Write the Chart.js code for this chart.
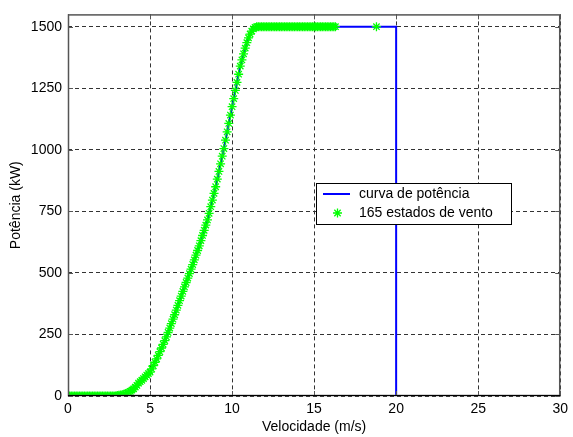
<!DOCTYPE html>
<html>
<head>
<meta charset="utf-8">
<script src="https://cdn.jsdelivr.net/npm/chart.js@4/dist/chart.umd.min.js"></script>
<style>
    html, body { margin: 0; padding: 0; background: #fff; }
    #wrap { width: 573px; height: 437px; position: relative; }
</style>
</head>
<body>
<div id="wrap"><canvas id="powerChart" width="573" height="437"></canvas></div>
<script>
// Power curve (blue line): wind speed (m/s) and power (kW)
const curveSpeed = [0, 0.5, 1, 1.5, 2, 2.5, 3, 3.5, 4, 4.5, 5, 5.5, 6, 6.5, 7, 7.5, 8, 8.5, 9, 9.5, 10, 10.5, 11, 11.25, 11.5, 20, 20, 30];
const curvePower = [0, 0, 0, 0, 0, 0, 2, 9, 29, 64, 97, 165, 240, 330, 425, 515, 610, 715, 850, 1005, 1175, 1340, 1455, 1487, 1500, 1500, 0, 0];

// 165 wind states (green stars)
const stateSpeed = [
    0.0, 0.1, 0.2, 0.3, 0.4, 0.5, 0.6, 0.7, 0.8, 0.9,
    1.0, 1.1, 1.2, 1.3, 1.4, 1.5, 1.6, 1.7, 1.8, 1.9,
    2.0, 2.1, 2.2, 2.3, 2.4, 2.5, 2.6, 2.7, 2.8, 2.9,
    3.0, 3.1, 3.2, 3.3, 3.4, 3.5, 3.6, 3.7, 3.8, 3.9,
    4.0, 4.1, 4.2, 4.3, 4.4, 4.5, 4.6, 4.7, 4.8, 4.9,
    5.0, 5.1, 5.2, 5.3, 5.4, 5.5, 5.6, 5.7, 5.8, 5.9,
    6.0, 6.1, 6.2, 6.3, 6.4, 6.5, 6.6, 6.7, 6.8, 6.9,
    7.0, 7.1, 7.2, 7.3, 7.4, 7.5, 7.6, 7.7, 7.8, 7.9,
    8.0, 8.1, 8.2, 8.3, 8.4, 8.5, 8.6, 8.7, 8.8, 8.9,
    9.0, 9.1, 9.2, 9.3, 9.4, 9.5, 9.6, 9.7, 9.8, 9.9,
    10.0, 10.1, 10.2, 10.3, 10.4, 10.5, 10.6, 10.7, 10.8, 10.9,
    11.0, 11.1, 11.2, 11.3, 11.4, 11.5, 11.6, 11.7, 11.8, 11.9,
    12.0, 12.1, 12.2, 12.3, 12.4, 12.5, 12.6, 12.7, 12.8, 12.9,
    13.0, 13.1, 13.2, 13.3, 13.4, 13.5, 13.6, 13.7, 13.8, 13.9,
    14.0, 14.1, 14.2, 14.3, 14.4, 14.5, 14.6, 14.7, 14.8, 14.9,
    15.0, 15.1, 15.2, 15.3, 15.4, 15.5, 15.6, 15.7, 15.8, 15.9,
    16.0, 16.1, 16.2, 16.3, 18.8
];
const statePower = [
    0, 0, 0, 0, 0, 0, 0, 0, 0, 0,
    0, 0, 0, 0, 0, 0, 0, 0, 0, 0,
    0, 0, 0, 0, 0, 0, 0, 0, 0, 0,
    2, 3, 4, 5, 7, 9, 12, 15, 19, 24,
    29, 36, 43, 52, 58, 64, 71, 78, 85, 91,
    97, 110, 123, 137, 151, 165, 180, 195, 210, 225,
    240, 258, 276, 294, 312, 330, 349, 368, 387, 406,
    425, 443, 461, 479, 497, 515, 534, 553, 572, 591,
    610, 631, 652, 673, 694, 715, 742, 769, 796, 823,
    850, 881, 912, 943, 974, 1005, 1039, 1073, 1107, 1141,
    1175, 1208, 1241, 1274, 1307, 1340, 1365, 1390, 1413, 1435,
    1455, 1470, 1482, 1491, 1497, 1500, 1500, 1500, 1500, 1500,
    1500, 1500, 1500, 1500, 1500, 1500, 1500, 1500, 1500, 1500,
    1500, 1500, 1500, 1500, 1500, 1500, 1500, 1500, 1500, 1500,
    1500, 1500, 1500, 1500, 1500, 1500, 1500, 1500, 1500, 1500,
    1500, 1500, 1500, 1500, 1500, 1500, 1500, 1500, 1500, 1500,
    1500, 1500, 1500, 1500, 1500
];

const xTicks = [0, 5, 10, 15, 20, 25, 30];
const yTicks = [0, 250, 500, 750, 1000, 1250, 1500];

const legendLabels = ['curva de potência', '165 estados de vento'];
const xTitle = 'Velocidade (m/s)';
const yTitle = 'Potência (kW)';

const FONT = 'Liberation Sans, Arial, sans-serif';

function toPoints(xs, ys) {
    return xs.map((x, i) => ({ x: x, y: ys[i] }));
}

// Box around the axes with inward ticks, MATLAB style
const boxPlugin = {
    id: 'boxPlugin',
    afterDatasetsDraw(chart) {
        const ctx = chart.ctx;
        const a = chart.chartArea;
        const xs = chart.scales.x, ys = chart.scales.y;
        ctx.save();
        ctx.strokeStyle = '#555';
        ctx.lineWidth = 1.5;
        ctx.strokeRect(a.left + 0.5, a.top + 0.5, a.right - a.left - 1, a.bottom - a.top - 1);
        ctx.lineWidth = 1;
        ctx.beginPath();
        xTicks.forEach(v => {
            const px = Math.round(xs.getPixelForValue(v)) + 0.5;
            ctx.moveTo(px, a.bottom); ctx.lineTo(px, a.bottom - 5);
            ctx.moveTo(px, a.top); ctx.lineTo(px, a.top + 5);
        });
        yTicks.forEach(v => {
            const py = Math.round(ys.getPixelForValue(v)) + 0.5;
            ctx.moveTo(a.left, py); ctx.lineTo(a.left + 5, py);
            ctx.moveTo(a.right, py); ctx.lineTo(a.right - 5, py);
        });
        ctx.stroke();
        // x axis line in black
        ctx.strokeStyle = '#000';
        ctx.beginPath();
        ctx.moveTo(a.left, a.bottom - 0.5);
        ctx.lineTo(a.right, a.bottom - 0.5);
        ctx.stroke();
        ctx.restore();
    }
};

// Legend box inside the plot
const legendPlugin = {
    id: 'legendPlugin',
    afterDraw(chart) {
        const ctx = chart.ctx;
        const left = 316, top = 183, w = 195, h = 41;
        ctx.save();
        ctx.fillStyle = '#fff';
        ctx.fillRect(left, top, w, h);
        ctx.strokeStyle = '#000';
        ctx.lineWidth = 1;
        ctx.strokeRect(left + 0.5, top + 0.5, w, h);
        // line sample
        ctx.strokeStyle = '#0000ff';
        ctx.lineWidth = 2;
        ctx.beginPath();
        ctx.moveTo(323, 194);
        ctx.lineTo(350, 194);
        ctx.stroke();
        // star sample
        ctx.strokeStyle = '#00ff00';
        ctx.lineWidth = 1.3;
        Chart.helpers.drawPoint(ctx, { pointStyle: 'star', radius: 4.5, borderWidth: 1.3 }, 337.5, 213);
        ctx.fillStyle = '#000';
        ctx.font = '14px ' + FONT;
        ctx.textBaseline = 'middle';
        ctx.fillText(legendLabels[0], 359, 194);
        ctx.fillText(legendLabels[1], 359, 213);
        ctx.restore();
    }
};

const ctx = document.getElementById('powerChart').getContext('2d');
const powerChart = new Chart(ctx, {
    type: 'scatter',
    data: {
        datasets: [
            {
                label: legendLabels[0],
                data: toPoints(curveSpeed, curvePower),
                showLine: true,
                borderColor: '#0000ff',
                borderWidth: 2,
                pointRadius: 0,
                tension: 0,
                order: 2
            },
            {
                label: legendLabels[1],
                data: toPoints(stateSpeed, statePower),
                showLine: false,
                pointStyle: 'star',
                pointRadius: 4.5,
                borderColor: '#00ff00',
                backgroundColor: '#00ff00',
                borderWidth: 1.3,
                order: 1
            }
        ]
    },
    options: {
        responsive: false,
        animation: false,
        layout: { padding: { top: 10, right: 9, left: 0, bottom: 0 } },
        plugins: {
            legend: { display: false },
            tooltip: { enabled: false }
        },
        scales: {
            x: {
                type: 'linear',
                min: 0,
                max: 30,
                afterBuildTicks: s => { s.ticks = xTicks.map(v => ({ value: v })); },
                afterFit: s => { s.height = 41; },
                ticks: { color: '#000', padding: 5, callback: v => String(v), font: { family: FONT, size: 14 } },
                grid: { color: '#333', lineWidth: 1, drawTicks: false },
                border: { display: false, dash: [4, 3] },
                title: { display: true, text: xTitle, color: '#000', padding: { top: 0, bottom: 1 }, font: { family: FONT, size: 14 } }
            },
            y: {
                type: 'linear',
                min: 0,
                max: 1550,
                afterBuildTicks: s => { s.ticks = yTicks.map(v => ({ value: v })); },
                afterFit: s => { s.width = 68; },
                ticks: { color: '#000', padding: 6, callback: v => String(v), font: { family: FONT, size: 14 } },
                grid: { color: '#333', lineWidth: 1, drawTicks: false },
                border: { display: false, dash: [4, 3] },
                title: { display: true, text: yTitle, color: '#000', padding: { top: 8, bottom: 0 }, font: { family: FONT, size: 14 } }
            }
        }
    },
    plugins: [boxPlugin, legendPlugin]
});
</script>
</body>
</html>
